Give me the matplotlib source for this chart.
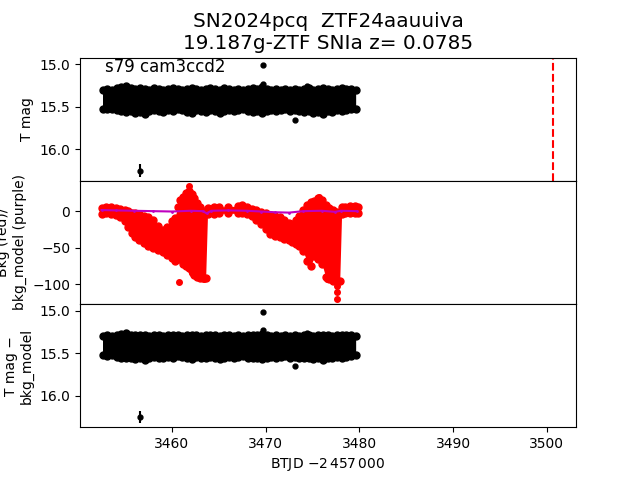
import matplotlib
matplotlib.use("Agg")
import matplotlib.pyplot as plt

# light curve band (upper / lower envelope of the dense T mag cloud)
t_band = [3452.6, 3453.1, 3453.6, 3454.1, 3454.6, 3455.1, 3455.6, 3456.1, 3456.6, 3457.1,
          3457.6, 3458.1, 3458.6, 3459.1, 3459.6, 3460.1, 3460.6, 3461.1, 3461.6, 3462.1,
          3462.6, 3463.1, 3463.6, 3464.1, 3464.6, 3465.1, 3465.6, 3466.1, 3466.6, 3467.1,
          3467.6, 3468.1, 3468.6, 3469.1, 3469.6, 3470.1, 3470.6, 3471.1, 3471.6, 3472.1,
          3472.6, 3473.1, 3473.6, 3474.1, 3474.6, 3475.1, 3475.6, 3476.1, 3476.6, 3477.1,
          3477.6, 3478.1, 3478.6, 3479.1, 3479.6]
mag_hi = [15.30, 15.29, 15.30, 15.28, 15.27, 15.26, 15.28, 15.29, 15.28, 15.29,
          15.30, 15.28, 15.29, 15.30, 15.29, 15.28, 15.29, 15.30, 15.29, 15.28,
          15.29, 15.30, 15.29, 15.28, 15.29, 15.30, 15.28, 15.29, 15.30, 15.29,
          15.30, 15.29, 15.28, 15.29, 15.27, 15.29, 15.30, 15.29, 15.30, 15.29,
          15.30, 15.29, 15.30, 15.29, 15.28, 15.30, 15.29, 15.28, 15.29, 15.30,
          15.29, 15.28, 15.29, 15.29, 15.30]
mag_lo = [15.52, 15.53, 15.52, 15.54, 15.55, 15.56, 15.55, 15.57, 15.56, 15.58,
          15.55, 15.54, 15.55, 15.56, 15.54, 15.55, 15.53, 15.54, 15.56, 15.57,
          15.54, 15.55, 15.56, 15.54, 15.55, 15.57, 15.55, 15.54, 15.55, 15.54,
          15.53, 15.55, 15.56, 15.55, 15.57, 15.55, 15.54, 15.55, 15.54, 15.53,
          15.55, 15.54, 15.55, 15.56, 15.55, 15.57, 15.56, 15.58, 15.55, 15.56,
          15.54, 15.55, 15.54, 15.53, 15.52]

# isolated points off the band
t_out = [3456.6, 3469.7, 3469.7, 3473.1, 3474.4]
mag_out = [16.25, 15.01, 15.23, 15.65, 15.26]
err_out = [0.075, 0.01, 0.01, 0.01, 0.01]

# background flux envelope (red)
t_bkg = [3452.5, 3453.0, 3453.5, 3454.0, 3454.5, 3455.0, 3455.3, 3455.7, 3456.1, 3456.5,
         3457.0, 3457.5, 3458.0, 3458.5, 3459.0, 3459.5, 3460.0, 3460.3, 3460.6, 3460.9,
         3461.2, 3461.5, 3461.8, 3462.1, 3462.4, 3462.7, 3463.0, 3463.3, 3463.6, 3463.8,
         3464.5, 3465.0, 3466.0, 3467.0, 3467.5, 3468.0, 3468.5, 3469.0, 3469.5, 3470.0,
         3470.5, 3471.0, 3471.5, 3472.0, 3472.5, 3472.8, 3473.2, 3473.6, 3474.0, 3474.4,
         3474.8, 3475.2, 3475.6, 3476.0, 3476.4, 3476.8, 3477.2, 3477.6, 3477.9, 3478.1,
         3478.5, 3479.0, 3479.5, 3479.8]
bkg_hi = [4, 5, 5, 4, 3, 2, 0, -2, -3, -4,
          -6, -8, -12, -20, -26, -22, -14, -10, 5, 15,
          20, 25, 27, 24, 18, 11, 5, 0, -3, 4,
          5, 6, 6, 7, 8, 6, 3, 1, -1, -3,
          -5, -6, -8, -12, -16, -17, -12, -6, 2, 8,
          12, 14, 18, 15, 9, 4, 1, -1, -2, 5,
          6, 7, 7, 5]
bkg_lo = [-4, -3, -4, -5, -8, -14, -22, -30, -36, -40,
          -44, -47, -50, -53, -56, -60, -64, -68, -66, -66,
          -72, -75, -78, -82, -88, -90, -92, -92, -92, -4,
          -4, -3, -3, -3, -2, -4, -7, -12, -18, -25,
          -31, -34, -36, -38, -40, -42, -45, -48, -55, -68,
          -75, -62, -65, -72, -90, -93, -95, -96, -96, -4,
          -3, -3, -3, -2]
t_bkg_out = [3461.8, 3460.8, 3462.1, 3463.4, 3475.2, 3475.7, 3476.5, 3477.6, 3477.6, 3477.6, 3477.8]
bkg_out = [34, -97, -85, -93, 11.5, 20, -93, -102, -111, -120, -95]

# background model (purple)
t_model = [3452.5, 3454.0, 3456.0, 3458.0, 3460.0, 3462.0, 3463.3, 3463.7, 3464.2, 3466.0,
           3468.0, 3469.5, 3471.0, 3472.5, 3474.0, 3476.0, 3477.4, 3478.0, 3479.7]
bkg_model = [1.5, 1.0, 0.5, 0.0, -0.5, 0.5, 0.0, -3.0, 0.5, 1.0,
             0.5, -0.5, -1.5, -2.0, 0.0, 0.5, -1.0, 0.5, 0.0]

t_alert = 3500.6

fig, axes = plt.subplots(3, 1, sharex=True, figsize=(6.4, 4.8))
fig.subplots_adjust(hspace=0)
ax1, ax2, ax3 = axes

for ax in (ax1, ax3):
    ax.fill_between(t_band, mag_hi, mag_lo, color="k", lw=0)
    ax.plot(t_band, mag_hi, "o", color="k", ms=5)
    ax.plot(t_band, mag_lo, "o", color="k", ms=5)
    ax.errorbar(t_out, mag_out, yerr=err_out, fmt="o", color="k", ms=3.5, lw=1.5)
    ax.set_ylim(16.37, 14.92)

ax1.axvline(t_alert, color="r", ls="--", lw=1.5)
ax1.set_ylabel("T mag")
ax1.text(0.05, 0.886, "s79 cam3ccd2", transform=ax1.transAxes, fontsize=12, va="baseline")
ax1.set_title("SN2024pcq  ZTF24aauuiva\n19.187g-ZTF SNIa z= 0.0785", fontsize=14.4)

ax2.fill_between(t_bkg, bkg_hi, bkg_lo, color="r", lw=0)
ax2.plot(t_bkg, bkg_hi, "o", color="r", ms=5)
ax2.plot(t_bkg, bkg_lo, "o", color="r", ms=5)
ax2.plot(t_bkg_out, bkg_out, "o", color="r", ms=4)
ax2.plot(t_model, bkg_model, ".-", color="m", ms=2, lw=1.5)
ax2.set_ylim(-127, 41.5)
ax2.set_ylabel("Bkg (red)/\nbkg_model (purple)")

ax3.set_ylabel("T mag \u2212\nbkg_model")
ax3.set_xlabel(r"BTJD $-2\,457\,000$")
ax3.set_xlim(3450.2, 3503.1)

fig.savefig("out.png", dpi=100)
